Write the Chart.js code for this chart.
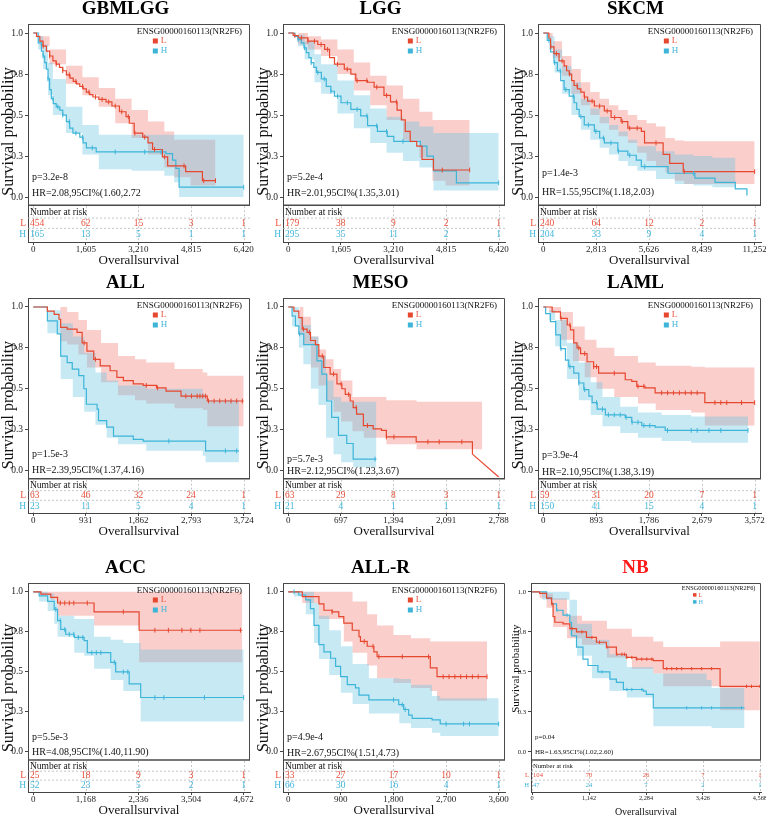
<!DOCTYPE html>
<html>
<head>
<meta charset="utf-8">
<title>NR2F6 survival panels</title>
<script src="https://cdn.jsdelivr.net/npm/chart.js@4.4.1/dist/chart.umd.min.js"></script>
<style>
  html, body { margin: 0; padding: 0; background: #fff; }
  #wrap { position: relative; width: 766px; height: 817px; overflow: hidden; }
  #wrap canvas { position: absolute; }
</style>
</head>
<body>
<div id="wrap"></div>
<script>
// ---- data: curves are [time, survival], CI is [time, upper, lower], censor = times ----
const GBMLGG_TICKS = [0, 1605, 3210, 4815, 6420];
const GBMLGG_RISK_L = [454, 62, 15, 3, 1];
const GBMLGG_RISK_H = [165, 13, 5, 1, 1];
const GBMLGG_L = [[0,1],[100,0.98],[200,0.95],[300,0.92],[400,0.89],[500,0.86],[600,0.83],[700,0.81],[800,0.79],[900,0.77],[1010,0.745],[1120,0.725],[1220,0.705],[1320,0.69],[1420,0.675],[1520,0.66],[1620,0.64],[1720,0.625],[1820,0.61],[2000,0.595],[2220,0.58],[2400,0.555],[2630,0.52],[2830,0.49],[2930,0.45],[3080,0.39],[3340,0.365],[3500,0.33],[3640,0.29],[3940,0.245],[4100,0.19],[4650,0.155],[5160,0.10],[5560,0.10]];
const GBMLGG_H = [[0,1],[150,0.94],[250,0.89],[300,0.86],[350,0.82],[400,0.78],[450,0.72],[500,0.655],[550,0.6],[610,0.57],[700,0.55],[810,0.53],[900,0.5],[1010,0.46],[1110,0.42],[1210,0.39],[1420,0.365],[1520,0.33],[1620,0.3],[1920,0.275],[4050,0.265],[4250,0.225],[4350,0.175],[4450,0.06],[6420,0.06]];
const GBMLGG_L_CI = [[0,1,1],[200,0.98,0.92],[500,0.9,0.81],[1000,0.8,0.69],[1500,0.73,0.62],[2000,0.665,0.55],[2500,0.6,0.45],[3000,0.53,0.36],[3500,0.46,0.26],[4000,0.4,0.18],[4300,0.35,0.12],[4800,0.35,0.07],[5560,0.35,0.04]];
const GBMLGG_H_CI = [[0,1,1],[150,0.98,0.9],[300,0.93,0.78],[450,0.82,0.62],[600,0.72,0.5],[1000,0.55,0.39],[1500,0.44,0.26],[2000,0.38,0.17],[3000,0.38,0.16],[4000,0.38,0.13],[4300,0.38,0.09],[4450,0.38,0.0],[6420,0.38,0.01]];
const GBMLGG_L_CENS = [300,500,700,900,1100,1300,1500,1700,1900,2100,2300,2500,2700,2900,3100,3400,3700,4000,4600,5200,5560];
const GBMLGG_H_CENS = [300,450,600,750,900,1100,1300,1500,1800,2500,3400,3900,6420];

const LGG_TICKS = [0, 1605, 3210, 4815, 6420];
const LGG_RISK_L = [179, 38, 9, 2, 1];
const LGG_RISK_H = [295, 35, 11, 2, 1];
const LGG_L = [[0,1],[150,0.985],[300,0.97],[600,0.95],[900,0.93],[1110,0.9],[1260,0.85],[1410,0.81],[1710,0.78],[1910,0.75],[2060,0.71],[2420,0.70],[2620,0.67],[2920,0.62],[3120,0.58],[3320,0.53],[3450,0.47],[3570,0.40],[3720,0.34],[3920,0.31],[4080,0.23],[4430,0.165],[5534,0.165]];
const LGG_H = [[0,1],[200,0.98],[300,0.96],[400,0.94],[480,0.91],[550,0.88],[630,0.85],[700,0.82],[780,0.79],[860,0.76],[1010,0.72],[1160,0.675],[1300,0.645],[1410,0.615],[1610,0.575],[1910,0.535],[2210,0.495],[2420,0.435],[2720,0.40],[3020,0.37],[3220,0.34],[4030,0.31],[4230,0.25],[4430,0.16],[5130,0.087],[6420,0.087]];
const LGG_L_CI = [[0,1,1],[300,1,0.93],[600,0.98,0.9],[1000,0.96,0.86],[1500,0.9,0.75],[2000,0.82,0.65],[2500,0.74,0.56],[3000,0.68,0.47],[3500,0.6,0.35],[4000,0.52,0.24],[4400,0.47,0.1],[4800,0.47,0.07],[5534,0.47,0.06]];
const LGG_H_CI = [[0,1,1],[300,0.99,0.92],[500,0.95,0.84],[800,0.87,0.7],[1000,0.81,0.63],[1500,0.71,0.51],[2000,0.62,0.42],[2500,0.54,0.33],[3000,0.49,0.27],[3500,0.46,0.22],[4000,0.43,0.18],[4430,0.39,0.04],[6420,0.39,0.03]];
const LGG_L_CENS = [200,400,600,800,1000,1200,1500,1800,2100,2400,2700,3000,3300,4700,5534];
const LGG_H_CENS = [300,500,700,900,1100,1300,1500,1800,2100,2400,2700,3000,3500,6420];

const SKCM_TICKS = [0, 2813, 5626, 8439, 11252];
const SKCM_RISK_L = [240, 64, 12, 2, 1];
const SKCM_RISK_H = [204, 33, 9, 4, 1];
const SKCM_L = [[0,1],[200,1],[300,0.965],[390,0.915],[570,0.875],[840,0.83],[1110,0.80],[1240,0.77],[1380,0.75],[1510,0.71],[1640,0.68],[1820,0.66],[2000,0.64],[2180,0.61],[2360,0.585],[2720,0.555],[3250,0.525],[3610,0.485],[4140,0.46],[4500,0.42],[5220,0.40],[5390,0.33],[6380,0.26],[6730,0.205],[7450,0.155],[11252,0.155]];
const SKCM_H = [[0,1],[210,0.955],[390,0.885],[570,0.82],[750,0.77],[930,0.71],[1110,0.655],[1380,0.615],[1640,0.575],[1780,0.535],[1910,0.49],[2180,0.44],[2720,0.40],[3000,0.36],[3250,0.33],[3970,0.28],[4500,0.255],[4950,0.225],[5220,0.185],[6640,0.145],[8070,0.115],[9140,0.09],[10220,0.05],[10840,0.01]];
const SKCM_L_CI = [[0,1,1],[200,1,0.97],[500,0.95,0.85],[1000,0.86,0.74],[1500,0.78,0.63],[2000,0.7,0.56],[2500,0.64,0.5],[3000,0.6,0.45],[3500,0.56,0.41],[4000,0.53,0.37],[4500,0.5,0.33],[5000,0.47,0.27],[5500,0.45,0.22],[6000,0.43,0.19],[6500,0.36,0.15],[7000,0.345,0.1],[7500,0.34,0.08],[11252,0.34,0.07]];
const SKCM_H_CI = [[0,1,1],[300,0.98,0.9],[600,0.9,0.76],[1000,0.8,0.63],[1500,0.7,0.5],[2000,0.6,0.41],[2500,0.54,0.35],[3000,0.49,0.3],[3500,0.44,0.26],[4000,0.4,0.22],[4500,0.35,0.19],[5000,0.31,0.16],[6000,0.28,0.11],[7000,0.26,0.08],[8000,0.25,0.07],[9000,0.24,0.06],[10230,0.24,0.04]];
const SKCM_L_CENS = [400,700,1000,1400,1800,2200,2600,3000,3400,3800,4200,4600,5000,6000,7500,11252];
const SKCM_H_CENS = [300,600,900,1200,1600,2000,2400,2800,3200,3600,4000,4600,5400,8000];

const ALL_TICKS = [0, 931, 1862, 2793, 3724];
const ALL_RISK_L = [63, 46, 32, 24, 1];
const ALL_RISK_H = [23, 11, 5, 4, 1];
const ALL_L = [[0,1],[250,0.975],[370,0.955],[455,0.925],[485,0.875],[600,0.865],[775,0.845],[865,0.78],[950,0.73],[1070,0.68],[1185,0.64],[1360,0.61],[1480,0.57],[1595,0.55],[1770,0.53],[1945,0.52],[2180,0.505],[2350,0.485],[2615,0.455],[3080,0.425],[3724,0.425]];
const ALL_H = [[0,1],[250,0.915],[425,0.835],[485,0.70],[600,0.66],[690,0.62],[805,0.58],[895,0.50],[940,0.405],[1130,0.375],[1155,0.305],[1300,0.265],[1420,0.21],[1770,0.19],[1945,0.18],[3050,0.12],[3640,0.12]];
const ALL_L_CI = [[0,1,1],[480,1,0.79],[600,0.97,0.77],[800,0.92,0.71],[950,0.86,0.63],[1200,0.78,0.54],[1500,0.7,0.46],[1800,0.68,0.43],[2000,0.66,0.41],[2500,0.62,0.38],[3000,0.6,0.37],[3080,0.58,0.27],[3724,0.58,0.265]];
const ALL_H_CI = [[0,1,1],[250,0.98,0.84],[485,0.9,0.56],[700,0.82,0.45],[900,0.72,0.36],[1100,0.6,0.28],[1300,0.55,0.2],[1500,0.52,0.16],[2000,0.5,0.12],[3000,0.47,0.09],[3050,0.43,0.05],[3640,0.43,0.05]];
const ALL_L_CENS = [900,1100,2000,2200,2700,2800,2900,2950,3000,3050,3100,3200,3300,3400,3500,3600,3700];
const ALL_H_CENS = [2400,3400,3600];

const MESO_TICKS = [0, 697, 1394, 2091, 2788];
const MESO_RISK_L = [63, 29, 8, 3, 1];
const MESO_RISK_H = [21, 4, 1, 1, 1];
const MESO_L = [[0,1],[75,0.975],[140,0.935],[185,0.865],[250,0.845],[295,0.795],[360,0.77],[405,0.70],[470,0.63],[555,0.59],[645,0.53],[710,0.5],[755,0.465],[820,0.425],[860,0.385],[905,0.345],[995,0.275],[1125,0.255],[1235,0.245],[1300,0.205],[1695,0.175],[2440,0.10]];
const MESO_L_TAIL = [[2440,0.10],[2788,-0.04]];
const MESO_H = [[0,1],[50,0.945],[95,0.885],[140,0.835],[205,0.77],[380,0.67],[445,0.59],[510,0.425],[575,0.325],[665,0.215],[775,0.165],[860,0.07],[1168,0.07]];
const MESO_L_CI = [[0,1,1],[150,1,0.83],[200,0.94,0.77],[300,0.82,0.63],[400,0.74,0.52],[500,0.68,0.43],[600,0.62,0.36],[700,0.55,0.3],[850,0.45,0.24],[1000,0.45,0.2],[1300,0.43,0.16],[1700,0.42,0.13],[2570,0.43,0.13]];
const MESO_H_CI = [[0,1,1],[50,1,0.88],[140,0.94,0.75],[200,0.89,0.65],[300,0.82,0.5],[400,0.7,0.4],[500,0.55,0.2],[600,0.45,0.1],[700,0.42,0.05],[860,0.42,0.02],[1168,0.42,0.02]];
const MESO_L_CENS = [200,280,450,600,700,800,900,1050,1300,1400,1850,2000,2300];
const MESO_H_CENS = [150,1150];

const LAML_TICKS = [0, 893, 1786, 2679, 3572];
const LAML_RISK_L = [59, 31, 20, 7, 1];
const LAML_RISK_H = [150, 41, 15, 4, 1];
const LAML_L = [[0,1],[70,1],[150,0.97],[290,0.93],[405,0.89],[460,0.86],[515,0.78],[570,0.75],[630,0.715],[740,0.665],[850,0.635],[935,0.595],[1385,0.555],[1495,0.545],[1580,0.515],[1720,0.505],[1890,0.475],[2730,0.415],[3572,0.415]];
const LAML_H = [[0,1],[40,0.96],[120,0.91],[210,0.83],[290,0.745],[375,0.675],[430,0.635],[515,0.595],[600,0.535],[685,0.495],[770,0.455],[825,0.415],[910,0.375],[1050,0.34],[1385,0.325],[1495,0.295],[1665,0.275],[1890,0.265],[2060,0.245],[3460,0.245]];
const LAML_L_CI = [[0,1,1],[100,1,0.97],[300,0.97,0.8],[500,0.88,0.67],[700,0.8,0.57],[900,0.75,0.5],[1200,0.7,0.45],[1600,0.66,0.41],[1900,0.64,0.37],[2500,0.635,0.355],[2730,0.63,0.275],[3572,0.62,0.275]];
const LAML_H_CI = [[0,1,1],[100,0.98,0.92],[200,0.92,0.76],[400,0.78,0.56],[600,0.66,0.43],[800,0.54,0.34],[1000,0.45,0.27],[1300,0.39,0.23],[1600,0.355,0.2],[2000,0.34,0.18],[2500,0.33,0.17],[3460,0.33,0.17]];
const LAML_L_CENS = [300,450,600,700,850,900,1200,1600,1700,2000,2100,2200,2300,2400,2500,2600,2900,3000,3100,3350,3572];
const LAML_H_CENS = [300,450,600,700,900,1000,1100,1200,1300,1400,1500,1600,1700,1800,2100,2500,2600,2800,3000,3460];

const ACC_TICKS = [0, 1168, 2336, 3504, 4672];
const ACC_RISK_L = [25, 18, 9, 3, 1];
const ACC_RISK_H = [52, 23, 5, 2, 1];
const ACC_L = [[0,1],[170,0.985],[390,0.965],[540,0.93],[1350,0.875],[2350,0.76],[4640,0.76]];
const ACC_H = [[0,1],[130,0.975],[320,0.94],[465,0.89],[540,0.82],[610,0.765],[720,0.735],[910,0.715],[1130,0.695],[1200,0.62],[1720,0.56],[1830,0.5],[2130,0.425],[2385,0.34],[4672,0.34]];
const ACC_L_CI = [[0,1,1],[150,1,0.98],[390,1,0.95],[540,1,0.85],[1350,1,0.79],[2350,1,0.56],[4640,1,0.56]];
const ACC_H_CI = [[0,1,1],[130,1,0.94],[320,0.99,0.88],[465,0.95,0.8],[540,0.85,0.72],[910,0.83,0.62],[1130,0.83,0.6],[1350,0.72,0.52],[1720,0.7,0.45],[2000,0.68,0.38],[2385,0.64,0.19],[4672,0.64,0.19]];
const ACC_L_CENS = [600,700,800,900,1200,2000,2700,3000,3300,3500,3700,4600];
const ACC_H_CENS = [500,600,700,800,900,1000,1100,1300,1400,1500,1800,2000,2100,2700,2900,3800,4672];

const ALLR_TICKS = [0, 900, 1800, 2700, 3600];
const ALLR_RISK_L = [33, 27, 17, 10, 1];
const ALLR_RISK_H = [66, 30, 16, 4, 1];
const ALLR_L = [[0,1],[240,0.97],[525,0.925],[610,0.885],[750,0.875],[865,0.845],[950,0.805],[1095,0.76],[1210,0.72],[1235,0.69],[1350,0.66],[1465,0.625],[1520,0.595],[2430,0.525],[2545,0.47],[3400,0.47]];
const ALLR_H = [[0,1],[100,1],[180,0.98],[300,0.95],[380,0.895],[440,0.79],[525,0.67],[610,0.625],[725,0.585],[810,0.535],[895,0.47],[1010,0.42],[1150,0.4],[1210,0.355],[1380,0.325],[1890,0.295],[1975,0.265],[2060,0.23],[2120,0.21],[2460,0.2],[2600,0.175],[3600,0.175]];
const ALLR_L_CI = [[0,1,1],[240,1,0.93],[525,1,0.83],[950,1,0.69],[1100,0.94,0.62],[1350,0.86,0.54],[1520,0.79,0.46],[1800,0.73,0.43],[2100,0.71,0.40],[2430,0.69,0.38],[2545,0.69,0.32],[3400,0.69,0.32]];
const ALLR_H_CI = [[0,1,1],[100,1,0.97],[300,1,0.86],[440,0.93,0.68],[525,0.85,0.58],[700,0.76,0.48],[900,0.66,0.37],[1100,0.55,0.3],[1380,0.46,0.24],[1900,0.455,0.18],[2100,0.42,0.15],[2460,0.35,0.12],[2600,0.335,0.1],[3600,0.335,0.1]];
const ALLR_L_CENS = [750,1300,1450,1550,1950,2400,2650,2750,2850,2950,3050,3150,3250,3400];
const ALLR_H_CENS = [100,1800,1950,2000,2700,3000,3100,3600];

const NB_TICKS = [0, 1142, 2284, 3426, 4568];
const NB_RISK_L = [104, 70, 26, 7, 1];
const NB_RISK_H = [47, 24, 7, 2, 1];
const NB_L = [[0,1],[150,0.99],[290,0.96],[390,0.925],[420,0.845],[455,0.81],[620,0.8],[755,0.77],[890,0.75],[1090,0.715],[1290,0.685],[1490,0.655],[1690,0.61],[1890,0.59],[2090,0.58],[2430,0.57],[2630,0.52],[3770,0.41],[4568,0.41]];
const NB_H = [[0,1],[270,1],[290,0.96],[390,0.925],[490,0.885],[620,0.855],[755,0.81],[790,0.725],[890,0.655],[1020,0.58],[1120,0.54],[1320,0.5],[1560,0.455],[1690,0.435],[1830,0.39],[2230,0.38],[2290,0.36],[2430,0.275],[4260,0.275]];
const NB_L_CI = [[0,1,1],[150,1,0.96],[290,0.99,0.9],[420,0.96,0.78],[700,0.85,0.71],[1000,0.82,0.67],[1500,0.77,0.59],[2000,0.72,0.52],[2430,0.69,0.49],[2630,0.655,0.41],[3700,0.655,0.41],[3770,0.69,0.26],[4568,0.69,0.26]];
const NB_H_CI = [[0,1,1],[200,1,0.95],[750,0.95,0.73],[900,0.8,0.6],[1200,0.7,0.46],[1550,0.61,0.38],[1900,0.53,0.34],[2430,0.49,0.16],[3500,0.45,0.16],[3600,0.4,0.15],[4260,0.4,0.15]];
const NB_L_CENS = [400,800,1000,1200,1350,1500,1700,1800,1850,1900,2000,2100,2200,2300,2400,2700,2800,2900,3000,3200,3400,3600,4300,4400,4568];
const NB_H_CENS = [500,700,1400,1900,2000,2200,3100,3400,3600,4200];

const Y_TICKS = [0, 0.25, 0.5, 0.75, 1];

// ---- styling / layout ----
const SERIF = "'Liberation Serif', 'DejaVu Serif', serif";
const RED = '#e6472f', BLUE = '#3db5d9';
const RED_TXT = '#e8503c', BLUE_TXT = '#45b7dc';
const RED_BAND = 'rgba(240,120,110,0.36)', BLUE_BAND = 'rgba(100,195,225,0.36)';
const KM_FLOOR = -0.05, KM_TOP = 1.055;
const X_AXIS_H = 25;
const COL_X = [0, 255, 510], COL_W = [255, 255, 256];
const ROW_TOP = [0, 274, 559], ROW_H = [267, 264, 258], ROW_MIN = [-0.274, -0.26, -0.25];

const PANELS = [
  { title: 'GBMLGG', col: 0, row: 0, L: GBMLGG_L, H: GBMLGG_H, LCI: GBMLGG_L_CI, HCI: GBMLGG_H_CI, LC: GBMLGG_L_CENS, HC: GBMLGG_H_CENS, ticks: GBMLGG_TICKS, riskL: GBMLGG_RISK_L, riskH: GBMLGG_RISK_H, p: 'p=3.2e-8', hr: 'HR=2.08,95CI%(1.60,2.72', statY: [0.12, 0.025] },
  { title: 'LGG', col: 1, row: 0, L: LGG_L, H: LGG_H, LCI: LGG_L_CI, HCI: LGG_H_CI, LC: LGG_L_CENS, HC: LGG_H_CENS, ticks: LGG_TICKS, riskL: LGG_RISK_L, riskH: LGG_RISK_H, p: 'p=5.2e-4', hr: 'HR=2.01,95CI%(1.35,3.01)', statY: [0.12, 0.025] },
  { title: 'SKCM', col: 2, row: 0, L: SKCM_L, H: SKCM_H, LCI: SKCM_L_CI, HCI: SKCM_H_CI, LC: SKCM_L_CENS, HC: SKCM_H_CENS, ticks: SKCM_TICKS, riskL: SKCM_RISK_L, riskH: SKCM_RISK_H, p: 'p=1.4e-3', hr: 'HR=1.55,95CI%(1.18,2.03)', statY: [0.145, 0.03] },
  { title: 'ALL', col: 0, row: 1, L: ALL_L, H: ALL_H, LCI: ALL_L_CI, HCI: ALL_H_CI, LC: ALL_L_CENS, HC: ALL_H_CENS, ticks: ALL_TICKS, riskL: ALL_RISK_L, riskH: ALL_RISK_H, p: 'p=1.5e-3', hr: 'HR=2.39,95CI%(1.37,4.16)', statY: [0.10, 0.0] },
  { title: 'MESO', col: 1, row: 1, L: MESO_L, H: MESO_H, LCI: MESO_L_CI, HCI: MESO_H_CI, LC: MESO_L_CENS, HC: MESO_H_CENS, tail: MESO_L_TAIL, ticks: MESO_TICKS, riskL: MESO_RISK_L, riskH: MESO_RISK_H, p: 'p=5.7e-3', hr: 'HR=2.12,95CI%(1.23,3.67)', statY: [0.065, -0.005] },
  { title: 'LAML', col: 2, row: 1, L: LAML_L, H: LAML_H, LCI: LAML_L_CI, HCI: LAML_H_CI, LC: LAML_L_CENS, HC: LAML_H_CENS, ticks: LAML_TICKS, riskL: LAML_RISK_L, riskH: LAML_RISK_H, p: 'p=3.9e-4', hr: 'HR=2.10,95CI%(1.38,3.19)', statY: [0.09, -0.01] },
  { title: 'ACC', col: 0, row: 2, L: ACC_L, H: ACC_H, LCI: ACC_L_CI, HCI: ACC_H_CI, LC: ACC_L_CENS, HC: ACC_H_CENS, ticks: ACC_TICKS, riskL: ACC_RISK_L, riskH: ACC_RISK_H, p: 'p=5.5e-3', hr: 'HR=4.08,95CI%(1.40,11.90)', statY: [0.09, 0.0] },
  { title: 'ALL-R', col: 1, row: 2, L: ALLR_L, H: ALLR_H, LCI: ALLR_L_CI, HCI: ALLR_H_CI, LC: ALLR_L_CENS, HC: ALLR_H_CENS, ticks: ALLR_TICKS, riskL: ALLR_RISK_L, riskH: ALLR_RISK_H, p: 'p=4.9e-4', hr: 'HR=2.67,95CI%(1.51,4.73)', statY: [0.09, -0.01] },
  { title: 'NB', col: 2, row: 2, L: NB_L, H: NB_H, LCI: NB_L_CI, HCI: NB_H_CI, LC: NB_L_CENS, HC: NB_H_CENS, ticks: NB_TICKS, riskL: NB_RISK_L, riskH: NB_RISK_H, p: 'p=0.04', hr: 'HR=1.63,95CI%(1.02,2.60)', statY: [0.09, 0.0],
    titleColor: '#ff1a1a', fs: 0.7, yw: 21, xPad: [0.005, 0.005], yTitleSize: 11, xTitleSize: 10, yTitleAt: 0.52 }
];

// survival value of a step curve at time t (for placing censor ticks)
function survAt(curve, t) {
  let s = curve[0][1];
  for (const [x, y] of curve) {
    if (x <= t) s = y; else break;
  }
  return s;
}

function makeDecor(P) {
  const k = P.fs || 1;
  return {
    id: 'kmDecor',
    afterDraw(chart) {
      const { ctx, chartArea: a, scales: { x, y } } = chart;
      const sep = y.getPixelForValue(KM_FLOOR);
      const h = a.bottom - sep;
      ctx.save();

      // frame of the KM plot
      ctx.strokeStyle = '#4a4a4a';
      ctx.lineWidth = 1;
      ctx.beginPath();
      ctx.moveTo(a.left, a.top + 0.5);
      ctx.lineTo(a.right - 0.5, a.top + 0.5);
      ctx.lineTo(a.right - 0.5, sep);
      ctx.stroke();
      ctx.lineWidth = 1.5;
      ctx.beginPath();
      ctx.moveTo(a.left, sep);
      ctx.lineTo(a.right, sep);
      ctx.stroke();

      // risk table grid
      ctx.strokeStyle = '#b8b8b8';
      ctx.lineWidth = 0.8;
      ctx.setLineDash([2, 2]);
      ctx.beginPath();
      [0.35, 0.63].forEach(f => {
        ctx.moveTo(a.left, sep + f * h);
        ctx.lineTo(a.right, sep + f * h);
      });
      P.ticks.forEach(v => {
        const px = Math.round(x.getPixelForValue(v)) + 0.5;
        ctx.moveTo(px, sep + 1);
        ctx.lineTo(px, a.bottom);
      });
      ctx.stroke();
      ctx.setLineDash([]);

      // risk table text
      ctx.textBaseline = 'middle';
      ctx.font = (9.5 * k) + 'px ' + SERIF;
      ctx.fillStyle = '#111';
      ctx.textAlign = 'left';
      ctx.fillText('Number at risk', a.left + 2, sep + 0.2 * h);
      const rows = [[P.riskL, RED_TXT, 0.49, 'L'], [P.riskH, BLUE_TXT, 0.8, 'H']];
      rows.forEach(([vals, col, f, lab]) => {
        ctx.fillStyle = col;
        ctx.textAlign = 'right';
        ctx.fillText(lab, a.left - 2, sep + f * h);
        ctx.textAlign = 'center';
        vals.forEach((v, i) => {
          const w = ctx.measureText(String(v)).width;
          const px = Math.max(x.getPixelForValue(P.ticks[i]), a.left + 2 + w / 2);
          ctx.fillText(String(v), px, sep + f * h);
        });
      });

      // p value and HR
      ctx.fillStyle = '#111';
      ctx.textAlign = 'left';
      ctx.font = (10 * k) + 'px ' + SERIF;
      ctx.fillText(P.p, a.left + 4, y.getPixelForValue(P.statY[0]));
      ctx.fillText(P.hr, a.left + 4, y.getPixelForValue(P.statY[1]));

      // legend
      ctx.font = (9 * k) + 'px ' + SERIF;
      const gene = 'ENSG00000160113(NR2F6)';
      const gw = ctx.measureText(gene).width;
      const gx = a.right - 8 * k - gw;
      ctx.fillStyle = '#111';
      ctx.fillText(gene, gx, a.top + 8 * k);
      [[RED, RED_TXT, 'L', 17], [BLUE, BLUE_TXT, 'H', 27]].forEach(([c, tc, lab, dy]) => {
        const sq = 5 * k;
        ctx.fillStyle = c;
        ctx.fillRect(gx + 16 * k, a.top + dy * k - sq / 2, sq, sq);
        ctx.fillStyle = tc;
        ctx.fillText(lab, gx + 16 * k + sq + 3 * k, a.top + dy * k);
      });

      // y axis title, centred on the survival part of the axis
      ctx.save();
      ctx.fillStyle = '#111';
      ctx.font = (P.yTitleSize || 16) + 'px ' + SERIF;
      ctx.textAlign = 'center';
      ctx.translate((P.yTitleSize || 16) / 2 + 1, y.getPixelForValue(P.yTitleAt || 0.4));
      ctx.rotate(-Math.PI / 2);
      ctx.fillText('Survival probability', 0, 0);
      ctx.restore();

      ctx.restore();
    }
  };
}

function buildPanel(P) {
  const k = P.fs || 1;
  const T = P.ticks[P.ticks.length - 1];
  const pad = P.xPad || [0.025, 0.03];
  const cv = document.createElement('canvas');
  cv.width = COL_W[P.col];
  cv.height = ROW_H[P.row];
  cv.style.left = COL_X[P.col] + 'px';
  cv.style.top = ROW_TOP[P.row] + 'px';
  document.getElementById('wrap').appendChild(cv);

  const pts = arr => arr.map(([t, s]) => ({ x: t, y: s }));
  const curve = (arr, color) => ({
    data: pts(arr), borderColor: color, borderWidth: 1.2, stepped: 'before',
    pointRadius: 0, fill: false, order: 1
  });
  const bandEdge = (ci, which, fillTo, color) => ({
    data: ci.map(r => ({ x: r[0], y: r[which] })),
    borderColor: 'transparent', borderWidth: 0, stepped: 'before', pointRadius: 0,
    fill: fillTo, backgroundColor: color || 'transparent', order: 3
  });
  const censor = (times, arr, color) => ({
    data: times.map(t => ({ x: t, y: survAt(arr, t) })),
    showLine: false, pointStyle: 'line', pointRotation: 90, pointRadius: 2.4 * k,
    pointBorderColor: color, pointBorderWidth: 1, pointBackgroundColor: color, order: 0
  });

  const datasets = [
    bandEdge(P.HCI, 1, false),
    bandEdge(P.HCI, 2, '-1', BLUE_BAND),
    bandEdge(P.LCI, 1, false),
    bandEdge(P.LCI, 2, '-1', RED_BAND),
    curve(P.L, RED),
    curve(P.H, BLUE),
    censor(P.LC, P.L, RED),
    censor(P.HC, P.H, BLUE)
  ];
  if (P.tail) {
    datasets.push({ data: pts(P.tail), borderColor: RED, borderWidth: 1.2, pointRadius: 0, fill: false, order: 1 });
  }

  new Chart(cv.getContext('2d'), {
    type: 'line',
    data: { datasets },
    options: {
      responsive: false,
      animation: false,
      devicePixelRatio: 1,
      events: [],
      layout: { padding: { left: 0, right: P.col === 2 ? 5 : 4, top: 0, bottom: 0 } },
      plugins: {
        legend: { display: false },
        tooltip: { enabled: false },
        title: {
          display: true, text: P.title, color: P.titleColor || '#000',
          font: { family: SERIF, size: 19, weight: 'bold', lineHeight: 1 },
          padding: { top: 0, bottom: 5 }
        }
      },
      scales: {
        x: {
          type: 'linear',
          min: -pad[0] * T,
          max: (1 + pad[1]) * T,
          afterBuildTicks: s => { s.ticks = P.ticks.map(v => ({ value: v })); },
          afterFit: s => { s.height = X_AXIS_H; s.paddingLeft = 0; s.paddingRight = 0; },
          ticks: {
            autoSkip: false, maxRotation: 0, padding: 0, color: '#222',
            font: { family: SERIF, size: 9 * k, lineHeight: 1.1 },
            callback: v => v.toLocaleString('en-US')
          },
          grid: { drawOnChartArea: false, drawTicks: true, tickLength: 3, color: '#444' },
          border: { display: true, color: '#444', width: 1 },
          title: {
            display: true, text: 'Overallsurvival', color: '#111',
            font: { family: SERIF, size: P.xTitleSize || 13, lineHeight: 1 },
            padding: { top: 0, bottom: 0 }
          }
        },
        y: {
          type: 'linear',
          min: ROW_MIN[P.row],
          max: KM_TOP,
          afterBuildTicks: s => { s.ticks = Y_TICKS.map(v => ({ value: v })); },
          afterFit: s => { s.width = P.yw || 28; s.paddingTop = 0; s.paddingBottom = 0; },
          ticks: {
            padding: 2, color: '#222',
            font: { family: SERIF, size: 9.5 * k },
            callback: v => v.toFixed(1)
          },
          grid: { drawOnChartArea: false, drawTicks: true, tickLength: 3, color: '#444' },
          border: { display: true, color: '#444', width: 1 }
        }
      }
    },
    plugins: [makeDecor(P)]
  });
}

PANELS.forEach(buildPanel);
</script>
</body>
</html>
